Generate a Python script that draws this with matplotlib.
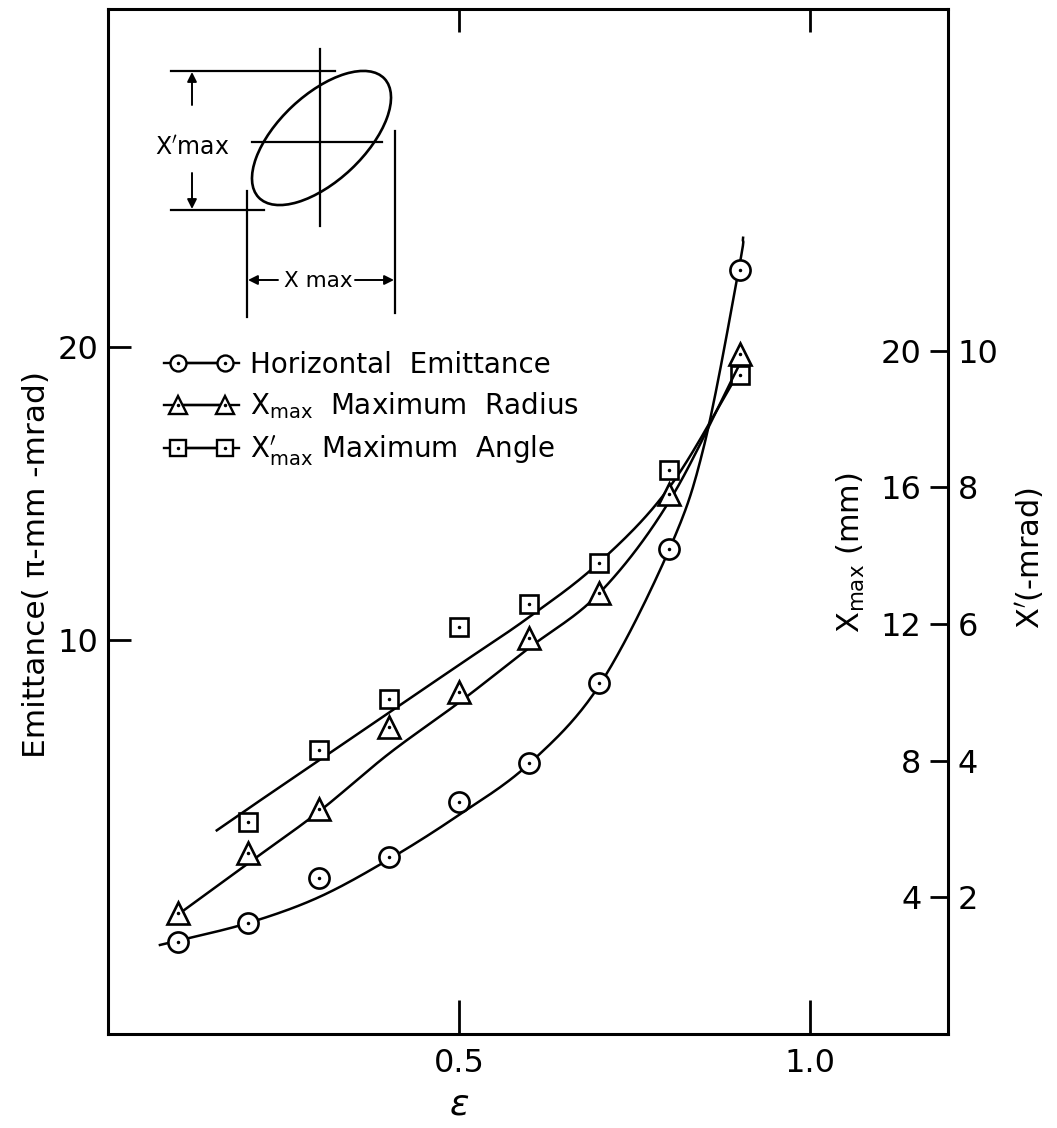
import numpy as np
import matplotlib
matplotlib.use("Agg")
import matplotlib.pyplot as plt
from matplotlib.patches import Ellipse
from matplotlib.lines import Line2D
from matplotlib.ticker import NullLocator, FixedLocator, FixedFormatter
from matplotlib.legend_handler import HandlerTuple, HandlerLine2D

plt.rcParams['font.family'] = ['DejaVu Sans']
plt.rcParams['mathtext.fontset'] = 'dejavusans'

# ---------------- data ----------------
eps = [0.1, 0.2, 0.3, 0.4, 0.5, 0.6, 0.7, 0.8, 0.9]
emittance = [4.89, 5.12, 5.69, 5.98, 6.82, 7.48, 9.03, 12.4, 24.0]       # pi-mm-mrad (log axis)
xmax_mm = [3.55, 5.3, 6.6, 9.0, 10.0, 11.6, 12.9, 15.8, 19.9]             # mm
eps_sq = [0.2, 0.3, 0.4, 0.5, 0.6, 0.7, 0.8, 0.9]
xpmax_mrad = [3.1, 4.15, 4.9, 5.95, 6.3, 6.9, 8.25, 9.65]                 # mrad

# hand-drawn smooth curves
curve_emit_x = [0.074, 0.1, 0.2, 0.3, 0.4, 0.5, 0.6, 0.7, 0.8, 0.85, 0.9, 0.905]
curve_emit_y = [4.86, 4.91, 5.12, 5.44, 5.95, 6.61, 7.46, 8.98, 12.4, 15.9, 24.3, 25.9]
curve_xmax_x = [0.1, 0.2, 0.3, 0.4, 0.5, 0.6, 0.7, 0.8, 0.9]
curve_xmax_y = [3.5, 5.0, 6.5, 8.2, 9.7, 11.3, 12.9, 15.6, 19.6]
curve_xp_x = [0.155, 0.2, 0.3, 0.4, 0.5, 0.6, 0.7, 0.8, 0.9]
curve_xp_y = [2.98, 3.3, 4.0, 4.7, 5.4, 6.1, 6.9, 8.0, 9.7]

left_ticks = [10, 20]
right_ticks_mm = [4, 8, 12, 16, 20]
right_ticks_mrad = [2, 4, 6, 8, 10]
x_ticks = [0.5, 1.0]
x_ticklabels = ['0.5', '1.0']


def smooth(xs, ys, n=24, log=False):
    """Catmull-Rom spline through the read curve points."""
    ys = np.log10(ys) if log else np.asarray(ys, float)
    p = np.column_stack([xs, ys]).astype(float)
    p = np.vstack([2 * p[0] - p[1], p, 2 * p[-1] - p[-2]])
    out = []
    t = np.linspace(0, 1, n, endpoint=False)[:, None]
    for i in range(1, len(p) - 2):
        p0, p1, p2, p3 = p[i - 1], p[i], p[i + 1], p[i + 2]
        seg = 0.5 * ((2 * p1) + (-p0 + p2) * t + (2 * p0 - 5 * p1 + 4 * p2 - p3) * t ** 2
                     + (-p0 + 3 * p1 - 3 * p2 + p3) * t ** 3)
        out.append(seg)
    out.append(p[-2][None, :])
    out = np.vstack(out)
    yy = 10 ** out[:, 1] if log else out[:, 1]
    return out[:, 0], yy


W, H, DPI = 1057, 1128, 100
fig = plt.figure(figsize=(W / DPI, H / DPI), dpi=DPI)
L, R, T, B = 108, 948, 9, 1034
ax = fig.add_axes([L / W, (H - B) / H, (R - L) / W, (B - T) / H])
ax.set_xlim(0, 1.197)
ax.set_yscale('log')
ax.set_ylim(3.937, 44.5)
for s in ax.spines.values():
    s.set_linewidth(2.2)

# mrad axis (outer right labels): 0..15 mrad
axp = ax.twinx()
axp.set_ylim(0, 15)
axp.set_yticks(right_ticks_mrad)
axp.set_yticklabels([str(v) for v in right_ticks_mrad])
axp.tick_params(axis='y', direction='in', length=0, pad=7, labelsize=23)
for s in axp.spines.values():
    s.set_visible(False)

# mm axis (inner labels on the right spine): 0..30 mm
axm = ax.twinx()
axm.set_ylim(0, 30)
axm.yaxis.set_ticks_position('left')
axm.yaxis.set_label_position('left')
axm.spines['left'].set_position(('axes', 1.0))
for k, s in axm.spines.items():
    s.set_visible(False)
axm.set_yticks(right_ticks_mm)
axm.set_yticklabels([str(v) for v in right_ticks_mm])
axm.tick_params(axis='y', direction='out', length=13, width=2.0, pad=6, labelsize=23)

# main (log) emittance axis
ax.yaxis.set_major_locator(FixedLocator(left_ticks))
ax.yaxis.set_major_formatter(FixedFormatter([str(v) for v in left_ticks]))
ax.yaxis.set_minor_locator(NullLocator())
ax.tick_params(axis='y', direction='in', length=16.5, width=2.0, pad=7, labelsize=23)
ax.set_xticks(x_ticks)
ax.set_xticklabels(x_ticklabels)
ax.tick_params(axis='x', direction='in', length=24.5, width=2.0, pad=10, labelsize=23)
top = ax.secondary_xaxis('top')
top.set_xticks(x_ticks)
top.tick_params(axis='x', direction='in', length=16.5, width=2.0, labeltop=False)
top.spines['top'].set_visible(False)

ax.set_xlabel(r'$\epsilon$', fontsize=26, labelpad=0)
ax.xaxis.set_label_coords((459 - L) / (R - L), -0.052)
ax.set_ylabel(u'Emittance( \u03c0-mm -mrad)', fontsize=22.5)
ax.yaxis.set_label_coords(-0.068, (B - 565) / (B - T))

lw = 1.8
# curves
cx, cy = smooth(curve_emit_x, curve_emit_y, log=True)
ax.plot(cx, cy, color='black', lw=lw)
tx, ty = smooth(curve_xmax_x, curve_xmax_y)
axm.plot(tx, ty, color='black', lw=lw)
sx, sy = smooth(curve_xp_x, curve_xp_y)
axp.plot(sx, sy, color='black', lw=lw)

mk = dict(color='black', linestyle='none', markerfacecolor='white', markeredgewidth=1.9)
dot = dict(marker='.', markersize=3, color='black', linestyle='none')
ax.plot(eps, emittance, marker='o', markersize=14.5, **mk)
ax.plot(eps, emittance, **dot)
axm.plot(eps, xmax_mm, marker='^', markersize=16, **mk)
axm.plot(eps, xmax_mm, **dot)
axp.plot(eps_sq, xpmax_mrad, marker='s', markersize=13.5, **mk)
axp.plot(eps_sq, xpmax_mrad, **dot)

# legend handles: stub line + two markers with centre dots
lkw = dict(color='black', lw=1.7, markerfacecolor='white', markeredgewidth=1.7)
stub = Line2D([], [], color='black', lw=1.7)
lh1 = Line2D([], [], marker='o', markersize=11.5, **lkw)
lh2 = Line2D([], [], marker='^', markersize=12.5, **lkw)
lh3 = Line2D([], [], marker='s', markersize=11, **lkw)
ld = Line2D([], [], **dot)
hmap = {tuple: HandlerTuple(ndivide=1),
        stub: HandlerLine2D(marker_pad=0.0),
        lh1: HandlerLine2D(marker_pad=0.5), lh2: HandlerLine2D(marker_pad=0.5),
        lh3: HandlerLine2D(marker_pad=0.5), ld: HandlerLine2D(marker_pad=0.5)}
leg = ax.legend([(stub, lh1, ld), (stub, lh2, ld), (stub, lh3, ld)],
                ['Horizontal  Emittance',
                 r'X$_{\mathregular{max}}$  Maximum  Radius',
                 r'X$^{\prime}_{\mathregular{max}}$ Maximum  Angle'],
                handler_map=hmap,
                numpoints=2, handlelength=2.7, handletextpad=0.4, labelspacing=0.42,
                frameon=False, fontsize=20, loc='upper left',
                bbox_to_anchor=((164 - L) / (R - L), (B - 351) / (B - T)),
                borderaxespad=0, borderpad=0)

# overlay in pixel coordinates for the phase-space sketch and side labels
ov = fig.add_axes([0, 0, 1, 1], zorder=5)
ov.set_xlim(0, W)
ov.set_ylim(H, 0)
ov.axis('off')
ov.patch.set_alpha(0)
slw = 1.6
ov.plot([171, 335], [71, 71], color='black', lw=slw)
ov.plot([171, 264], [210, 210], color='black', lw=slw)
ov.plot([252, 382], [142, 142], color='black', lw=slw)
ov.plot([320, 320], [49, 226], color='black', lw=slw)
ov.plot([247, 247], [191, 317], color='black', lw=slw)
ov.plot([395, 395], [131, 313], color='black', lw=slw)
ov.add_patch(Ellipse((321.5, 138), 173, 86, angle=-43.3, fill=False, lw=1.9, color='black'))
ap = dict(arrowstyle='-|>', lw=1.4, color='black', mutation_scale=14, shrinkA=0, shrinkB=0)
ov.annotate('', xy=(192, 72), xytext=(192, 105), arrowprops=ap)
ov.annotate('', xy=(192, 209), xytext=(192, 173), arrowprops=ap)
ov.annotate('', xy=(248, 280), xytext=(278, 280), arrowprops=ap)
ov.annotate('', xy=(394, 280), xytext=(355, 280), arrowprops=ap)
ov.text(192, 148, r'X$^{\prime}$max', fontsize=17, ha='center', va='center')
ov.text(318, 281, 'X max', fontsize=15.5, ha='center', va='center')

ov.text(851, 553, r'X$_{\mathregular{max}}$ (mm)', fontsize=22, rotation=90,
        ha='center', va='center')
ov.text(1030, 558, r'X$^{\prime}$(-mrad)', fontsize=22, rotation=90,
        ha='center', va='center')

fig.savefig('out.png', dpi=DPI, facecolor='white')
